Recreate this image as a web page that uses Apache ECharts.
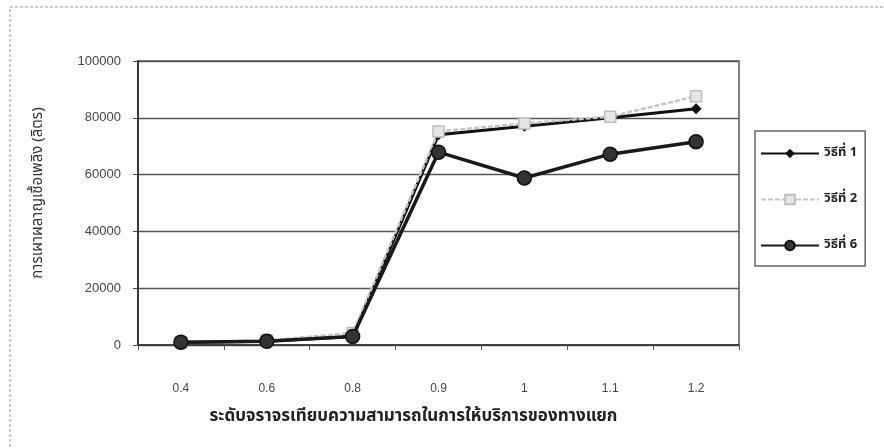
<!DOCTYPE html>
<html>
<head>
<meta charset="utf-8">
<script src="https://cdn.jsdelivr.net/npm/echarts@6/dist/echarts.min.js"></script>
<style>
  html, body { margin: 0; padding: 0; background: #fff; }
  #chart { width: 884px; height: 448px; }
</style>
</head>
<body>
<div id="chart"></div>
<script>
// Traffic level (v/c) relative to intersection capacity
const categories = ['0.4', '0.6', '0.8', '0.9', '1', '1.1', '1.2'];

// Fuel consumption (litres) per method
const method1 = [900, 1300, 3000, 74000, 77000, 80000, 83200];
const method2 = [1000, 1600, 4200, 75200, 78000, 80400, 87600];
const method6 = [1000, 1300, 3000, 67900, 58800, 67200, 71600];

const seriesNames = ['วิธีที่ 1', 'วิธีที่ 2', 'วิธีที่ 6'];
const yTicks = [0, 20000, 40000, 60000, 80000, 100000];

const thaiFont = '"Noto Sans Thai", "Noto Sans", "DejaVu Sans", sans-serif';
const numFont = '"Liberation Sans", Arial, sans-serif';

const chart = echarts.init(document.getElementById('chart'));

chart.setOption({
  backgroundColor: '#fff',
  animation: false,
  graphic: [{
    type: 'rect',
    shape: { x: 10, y: 7, width: 900, height: 460 },
    style: { fill: 'none', stroke: '#999', lineWidth: 1, lineDash: [3, 2] },
    silent: true
  }],
  grid: {
    left: 138, right: 145, top: 61, bottom: 103,
    show: true, borderColor: '#555', borderWidth: 1.5, backgroundColor: 'transparent'
  },
  legend: {
    orient: 'vertical',
    left: 755, top: 131,
    width: 123,
    padding: [16, 8, 14, 5],
    itemGap: 33,
    itemWidth: 58, itemHeight: 12,
    borderColor: '#666', borderWidth: 1.5,
    textStyle: { fontFamily: thaiFont, fontSize: 13, fontWeight: 'bold', color: '#222' },
    data: seriesNames
  },
  xAxis: {
    type: 'category',
    data: categories,
    boundaryGap: true,
    name: 'ระดับจราจรเทียบความสามารถในการให้บริการของทางแยก',
    nameLocation: 'middle',
    nameGap: 64,
    nameTextStyle: { fontFamily: thaiFont, fontSize: 17, fontWeight: 'bold', color: '#222', padding: [0, 50, 0, 0] },
    axisLine: { lineStyle: { color: '#333', width: 1.5 } },
    axisTick: { show: true, length: 5, lineStyle: { color: '#555' } },
    axisLabel: { margin: 38, fontFamily: numFont, fontSize: 12, color: '#444' },
    splitLine: { show: false }
  },
  yAxis: {
    type: 'value',
    min: yTicks[0],
    max: yTicks[yTicks.length - 1],
    interval: yTicks[1] - yTicks[0],
    name: 'การเผาผลาญเชื้อเพลิง (ลิตร)',
    nameLocation: 'middle',
    nameGap: 92,
    nameTextStyle: { fontFamily: thaiFont, fontSize: 15, color: '#333', padding: [0, 0, 0, 20] },
    axisLine: { show: true, lineStyle: { color: '#222', width: 1.5 } },
    axisTick: { show: true, length: 5, lineStyle: { color: '#444' } },
    axisLabel: { margin: 17, fontFamily: numFont, fontSize: 13, color: '#444', formatter: v => String(v) },
    splitLine: { show: true, lineStyle: { color: '#555', width: 1.3 } }
  },
  series: [
    {
      name: seriesNames[0],
      type: 'line',
      data: method1,
      symbol: 'diamond',
      symbolSize: 11,
      z: 2,
      lineStyle: { color: '#111', width: 3 },
      itemStyle: { color: '#111' }
    },
    {
      name: seriesNames[1],
      type: 'line',
      data: method2,
      symbol: 'rect',
      symbolSize: 11,
      z: 3,
      lineStyle: { color: '#c4c4c4', width: 2.5, type: [5, 2] },
      itemStyle: { color: '#e6e6e6', borderColor: '#bdbdbd', borderWidth: 1.5 }
    },
    {
      name: seriesNames[2],
      type: 'line',
      data: method6,
      symbol: 'circle',
      symbolSize: 14,
      z: 4,
      lineStyle: { color: '#1a1a1a', width: 3.5 },
      itemStyle: { color: '#333', borderColor: '#111', borderWidth: 1.5 }
    }
  ]
});
</script>
</body>
</html>
